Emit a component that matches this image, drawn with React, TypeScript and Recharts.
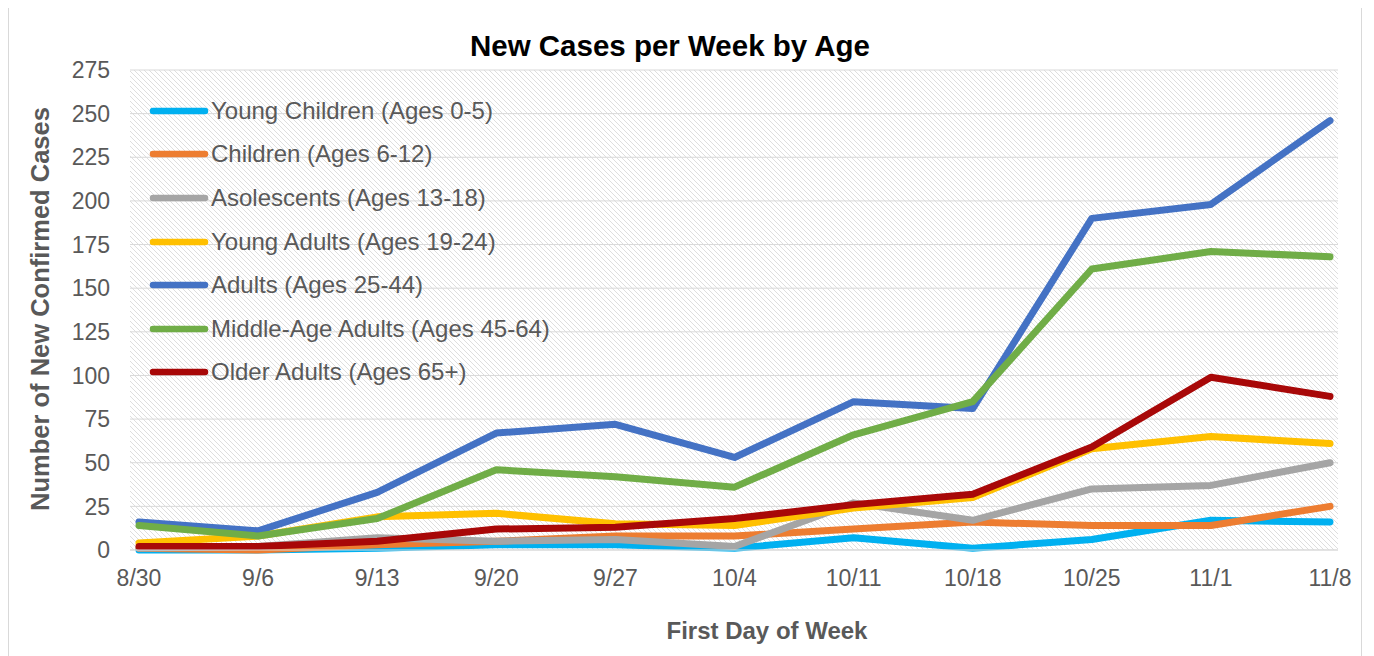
import React from 'react'
import { LineChart, Line, XAxis, YAxis, CartesianGrid, Legend } from 'recharts'

const weeks = ['8/30', '9/6', '9/13', '9/20', '9/27', '10/4', '10/11', '10/18', '10/25', '11/1', '11/8']

const youngChildren = [0, 0, 1, 3, 3, 1, 7, 1, 6, 17, 16]
const children = [1, 0, 3, 5, 8, 8, 12, 16, 14, 14, 25]
const adolescents = [1, 2, 7, 5, 6, 2, 27, 17, 35, 37, 50]
const youngAdults = [4, 8, 19, 21, 15, 14, 24, 30, 58, 65, 61]
const adults = [16, 11, 33, 67, 72, 53, 85, 81, 190, 198, 246]
const middleAge = [14, 8, 18, 46, 42, 36, 66, 85, 161, 171, 168]
const olderAdults = [2, 2, 5, 12, 13, 18, 26, 32, 59, 99, 88]

const yTicks = [0, 25, 50, 75, 100, 125, 150, 175, 200, 225, 250, 275]

const SERIES = [
  { key: 'youngChildren', name: 'Young Children (Ages 0-5)', color: '#00B0F0', values: youngChildren },
  { key: 'children', name: 'Children (Ages 6-12)', color: '#ED7D31', values: children },
  { key: 'adolescents', name: 'Asolescents (Ages 13-18)', color: '#A5A5A5', values: adolescents },
  { key: 'youngAdults', name: 'Young Adults (Ages 19-24)', color: '#FFC000', values: youngAdults },
  { key: 'adults', name: 'Adults (Ages 25-44)', color: '#4472C4', values: adults },
  { key: 'middleAge', name: 'Middle-Age Adults (Ages 45-64)', color: '#70AD47', values: middleAge },
  { key: 'olderAdults', name: 'Older Adults (Ages 65+)', color: '#A80808', values: olderAdults },
]

const chartData = weeks.map((week, i) => {
  const row: any = { week }
  SERIES.forEach((s) => {
    row[s.key] = s.values[i]
  })
  return row
})

const FONT = '"Liberation Sans", Arial, sans-serif'
const GREY_TEXT = '#595959'

const seriesIndex = (name: string) => SERIES.findIndex((s) => s.name === name)

const renderLegend = (props: any) => {
  // keep the series order instead of the alphabetical default
  const payload = [...(props.payload || [])].sort((a: any, b: any) => seriesIndex(a.value) - seriesIndex(b.value))
  return (
    <div style={{ fontFamily: FONT }}>
      {payload.map((entry: any) => (
        <div key={entry.value} style={{ display: 'flex', alignItems: 'center', height: 43.6 }}>
          <svg width={60} height={10}>
            <line x1={4} y1={5} x2={56} y2={5} stroke={entry.color} strokeWidth={6.5} strokeLinecap="round" />
          </svg>
          <span style={{ fontSize: 24, color: GREY_TEXT, marginLeft: 2, whiteSpace: 'nowrap' }}>
            {entry.value}
          </span>
        </div>
      ))}
    </div>
  )
}

const XTitle = () => (
  <text x={758} y={634} textAnchor="middle" fontFamily={FONT} fontSize={24} fontWeight="bold" fill={GREY_TEXT}>
    First Day of Week
  </text>
)

const YTitle = () => (
  <text
    x={40}
    y={304}
    transform="rotate(-90, 40, 304)"
    textAnchor="middle"
    fontFamily={FONT}
    fontSize={25.5}
    fontWeight="bold"
    fill={GREY_TEXT}
  >
    Number of New Confirmed Cases
  </text>
)

export default function App() {
  return (
    <div
      style={{
        marginTop: -4,
        width: 1354,
        height: 660,
        border: '1px solid #d9d9d9',
        boxSizing: 'border-box',
        position: 'relative',
        background: '#fff',
      }}
    >
      <svg width={0} height={0} style={{ position: 'absolute' }}>
        <defs>
          <pattern id="hatch" patternUnits="userSpaceOnUse" width={5} height={5}>
            <rect width={5} height={5} fill="#ffffff" />
            <path d="M-1,-1 L6,6 M-1,4 L1,6 M4,-1 L6,1" stroke="#dedede" strokeWidth={1} />
          </pattern>
        </defs>
      </svg>
      <div
        style={{
          position: 'absolute',
          left: 0,
          top: 24,
          width: 1322,
          textAlign: 'center',
          fontFamily: FONT,
          fontWeight: 'bold',
          fontSize: 29.5,
          color: '#000',
        }}
      >
        New Cases per Week by Age
      </div>
      <LineChart width={1352} height={651} data={chartData} margin={{ top: 65, right: 23, bottom: 46, left: 0 }}>
        <CartesianGrid vertical={false} stroke="#d9d9d9" fill="url(#hatch)" />
        <XAxis
          dataKey="week"
          height={60}
          interval={0}
          padding={{ left: 9, right: 8 }}
          tickLine={false}
          tickSize={0}
          tickMargin={20}
          axisLine={{ stroke: '#d9d9d9' }}
          tick={{ fill: GREY_TEXT, fontSize: 23, fontFamily: FONT }}
          label={<XTitle />}
        />
        <YAxis
          width={121}
          domain={[0, 275]}
          ticks={yTicks}
          interval={0}
          tickLine={false}
          tickSize={0}
          tickMargin={20}
          axisLine={false}
          tick={{ fill: GREY_TEXT, fontSize: 23, fontFamily: FONT }}
          label={<YTitle />}
        />
        <Legend
          layout="vertical"
          align="center"
          verticalAlign="middle"
          content={renderLegend}
          wrapperStyle={{ left: 140, top: 84, width: 'auto' }}
        />
        {SERIES.map((s) => (
          <Line
            key={s.key}
            type="linear"
            dataKey={s.key}
            name={s.name}
            stroke={s.color}
            strokeWidth={7}
            strokeLinecap="round"
            strokeLinejoin="round"
            dot={false}
            activeDot={false}
            isAnimationActive={false}
          />
        ))}
      </LineChart>
    </div>
  )
}
